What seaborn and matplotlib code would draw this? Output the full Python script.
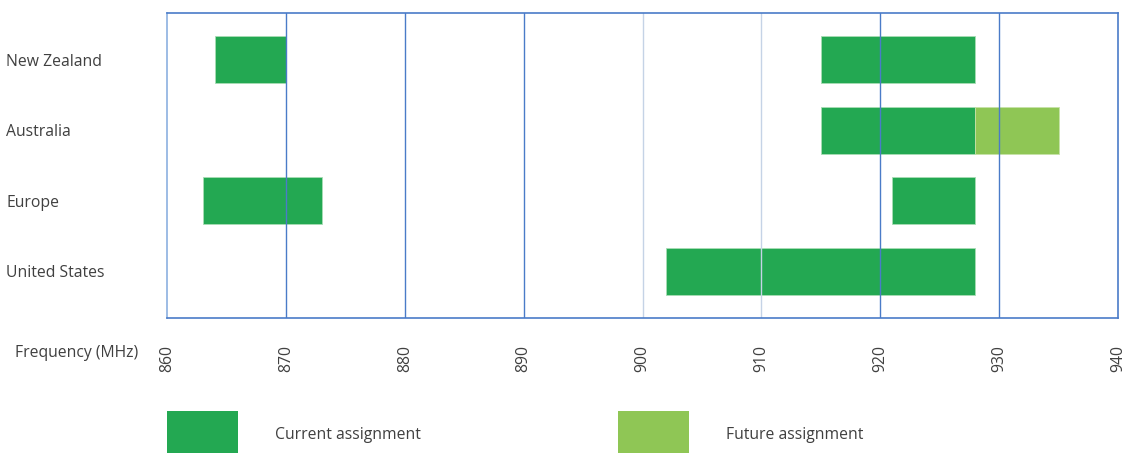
import matplotlib
matplotlib.use("Agg")
import matplotlib.pyplot as plt
from matplotlib.patches import Patch
import seaborn as sns
import pandas as pd

# ---- data ----
regions = ["New Zealand", "Australia", "Europe", "United States"]
seg_region = ["New Zealand", "New Zealand", "Australia", "Australia", "Europe", "Europe", "United States"]
seg_start = [864, 915, 915, 928, 863, 921, 902]
seg_end = [870, 928, 928, 935, 873, 928, 928]
seg_type = ["Current assignment", "Current assignment", "Current assignment", "Future assignment",
            "Current assignment", "Current assignment", "Current assignment"]
x_ticks = [860, 870, 880, 890, 900, 910, 920, 930, 940]
x_label = "Frequency (MHz)"

colors = {"Current assignment": "#23A852", "Future assignment": "#8FC655"}
grid_dark = "#4A7BC8"
grid_light = "#C5D3E6"

df = pd.DataFrame({"region": seg_region, "start": seg_start, "end": seg_end, "type": seg_type})
df["width"] = df["end"] - df["start"]
df["ypos"] = df["region"].map({r: i for i, r in enumerate(regions)})

sns.set_theme(style="white")
plt.rcParams["font.family"] = ["Open Sans", "DejaVu Sans"]
text_color = "#404040"
fs = 11.3
fpx = fs * 100 / 72

fig = plt.figure(figsize=(11.27, 4.53), dpi=100)
ax = fig.add_axes([167 / 1127, 1 - 318 / 453, (1118 - 167) / 1127, (318 - 13) / 453])

for _, row in df.iterrows():
    ax.barh(row["ypos"], row["width"], left=row["start"], height=0.67,
            color=colors[row["type"]], edgecolor="#A8DDB5" if row["type"] == "Current assignment" else "#C6E3A8",
            linewidth=0.6, zorder=2)

ax.set_xlim(x_ticks[0], x_ticks[-1])
ax.set_ylim(len(regions) - 1 + 0.66, -0.66)
ax.set_xticks(x_ticks)
ax.set_xticklabels([str(t) for t in x_ticks], rotation=90, fontsize=fs, color=text_color)
ax.set_yticks(range(len(regions)))
ax.set_yticklabels(regions, fontsize=fs, color=text_color)
for lab in ax.get_yticklabels():
    lab.set_horizontalalignment("left")
ax.tick_params(axis="y", length=0, pad=(167 - 6) * 72 / 100)
ax.tick_params(axis="x", length=0, pad=27 * 72 / 100)

# vertical gridlines drawn on top of bars
for t in x_ticks[1:-1]:
    c = grid_light if t in (900, 910) else grid_dark
    ax.axvline(t, color=c, linewidth=1.0, zorder=3)

for side, sp in ax.spines.items():
    sp.set_visible(True)
    sp.set_color(grid_dark)
    sp.set_linewidth(1.2)
    sp.set_zorder(4)
ax.spines["left"].set_color("#8CB0E0")

fig.text(15 / 1127, 1 - 353 / 453, x_label, fontsize=fs, color=text_color, ha="left", va="center")

handles = [Patch(facecolor=colors[k], edgecolor="none") for k in ["Current assignment", "Future assignment"]]
leg = fig.legend(handles, ["Current assignment", "Future assignment"], ncol=2, frameon=False,
                 loc="upper left", bbox_to_anchor=(167 / 1127, 1 - 411 / 453),
                 borderpad=0, borderaxespad=0, handlelength=71 / fpx, handleheight=48 / 0.7 / fpx,
                 handletextpad=37 / fpx, columnspacing=197 / fpx, prop={"size": fs})
for t in leg.get_texts():
    t.set_color(text_color)

fig.savefig("out.png", dpi=100)
